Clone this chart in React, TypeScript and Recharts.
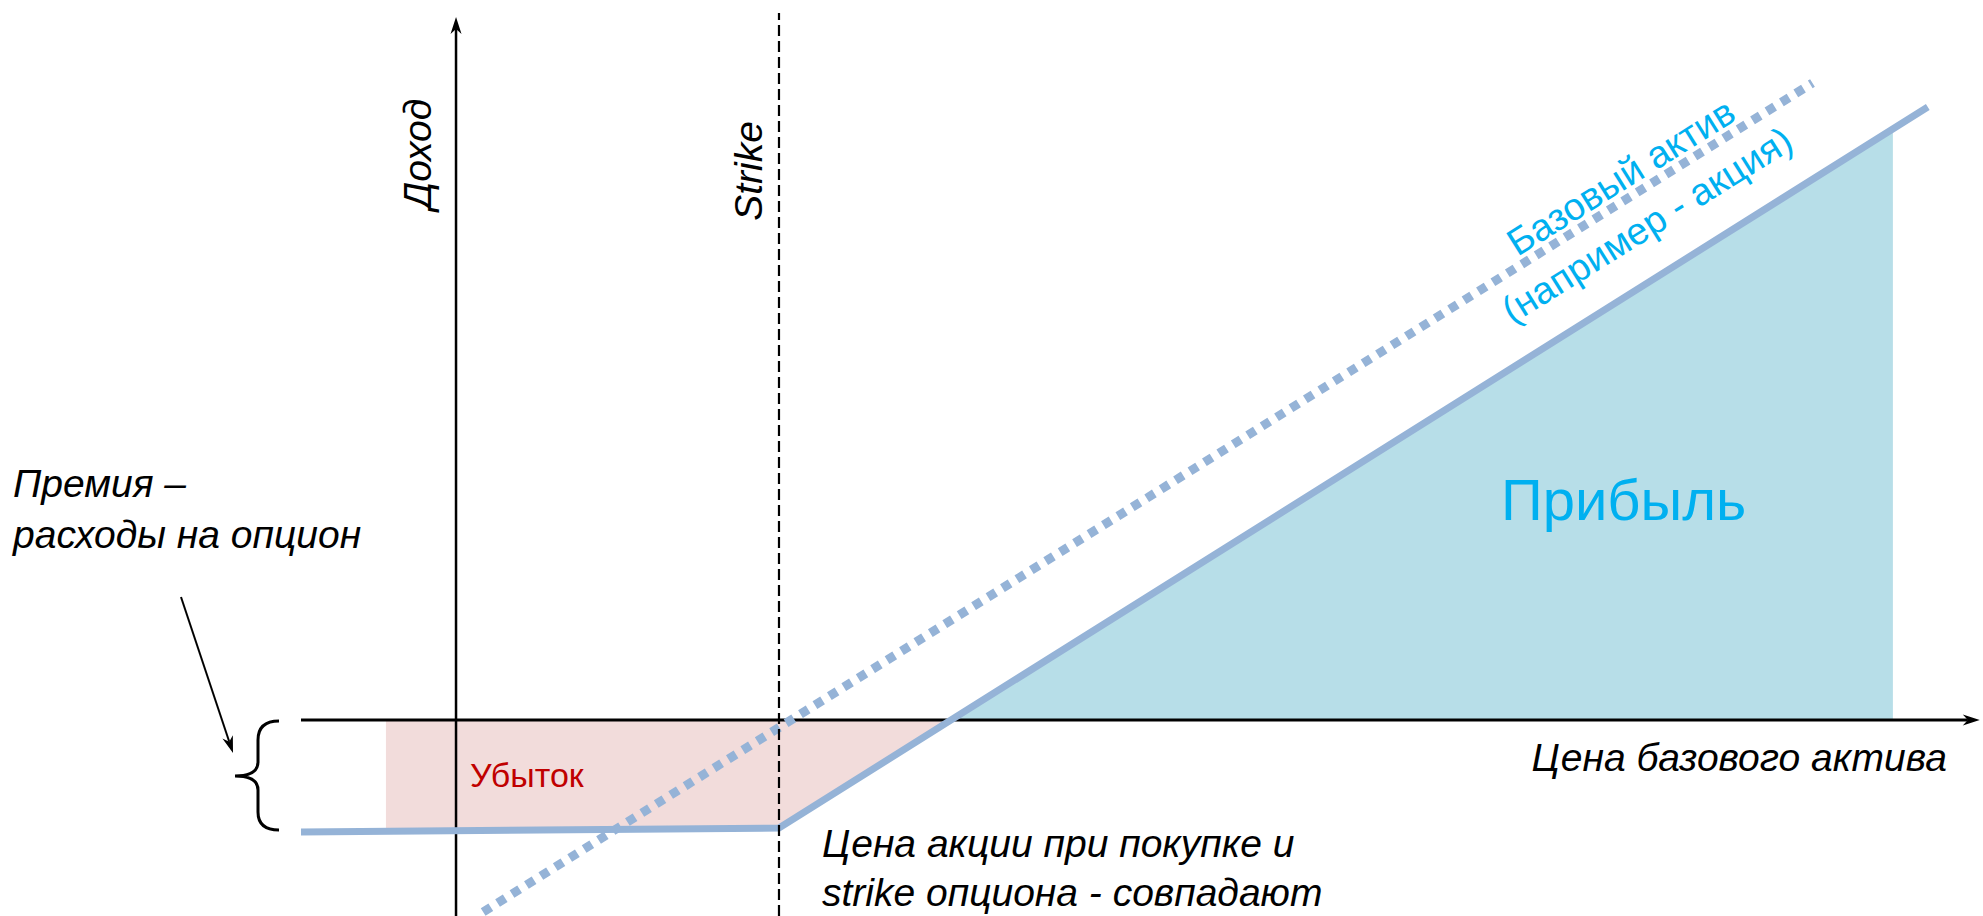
import React from 'react';
import { ComposedChart, Line, Area, XAxis, YAxis, ReferenceLine } from 'recharts';

const W = 1983;
const H = 916;

// chart units: x = price of the underlying (strike = 100), y = profit
const priceDomain = [-141.2, 472.8];
const profitDomain = [-98, 360];

const strikePrice = 100;
const strikeTop = 353.5;
const xAxisFrom = -48;
const xAxisTo = 471.8;
const yAxisFrom = -98;
const yAxisTo = 351.5;

// option payoff (solid)
const payoffPrice = [-48, 100, 455.7];
const payoffProfit = [-56, -54, 306.5];
// underlying asset (dotted)
const stockPrice = [8.4, 420];
const stockProfit = [-96, 318.5];
// loss zone
const lossPrice = [-21.7, 100, 153.3];
const lossProfit = [-55.5, -54, 0];
// profit zone
const gainPrice = [153.3, 444.9];
const gainProfit = [0, 295];

const LINE = '#95B3D7';
const FONT = "'Liberation Sans Narrow', 'Liberation Sans', sans-serif";

const zip = (xs: number[], ys: number[]) => xs.map((p, i) => ({ p, v: ys[i] }));

function ArrowLine(props: any) {
  const { x1, y1, x2, y2, stroke, strokeWidth } = props;
  const a = Math.atan2(y2 - y1, x2 - x1);
  const c = Math.cos(a);
  const s = Math.sin(a);
  const len = 17;
  const half = 5.5;
  const bx = x2 - len * c;
  const by = y2 - len * s;
  const nx = x2 - len * 0.7 * c;
  const ny = y2 - len * 0.7 * s;
  const head = `M${x2},${y2} L${bx - half * s},${by + half * c} L${nx},${ny} L${bx + half * s},${by - half * c} Z`;
  return (
    <g>
      <line x1={x1} y1={y1} x2={nx} y2={ny} stroke={stroke} strokeWidth={strokeWidth} />
      <path d={head} fill={stroke} />
    </g>
  );
}

function Overlay() {
  const italic = { fontFamily: FONT, fontStyle: 'italic', fill: '#000', fontSize: 39 } as const;
  return (
    <svg width={W} height={H} style={{ position: 'absolute', left: 0, top: 0, pointerEvents: 'none' }}>
      <text {...italic} x={417} y={154} textAnchor="middle" dominantBaseline="central" transform="rotate(-90 417 154)">
        Доход
      </text>
      <text {...italic} x={748} y={171} textAnchor="middle" dominantBaseline="central" transform="rotate(-90 748 171)">
        Strike
      </text>
      <text {...italic} x={13} y={497}>Премия –</text>
      <text {...italic} x={13} y={548}>расходы на опцион</text>
      <text {...italic} x={1947} y={771} textAnchor="end">Цена базового актива</text>
      <text {...italic} x={822} y={857}>Цена акции при покупке и</text>
      <text {...italic} x={822} y={906}>strike опциона - совпадают</text>

      <text x={470} y={787} fontFamily={FONT} fontSize={34} fill="#C00000">Убыток</text>
      <text x={1501} y={520} fontFamily={FONT} fontSize={58} fill="#00B0F0">Прибыль</text>

      <g transform="rotate(-32 1621 177)">
        <text x={1621} y={177} fontFamily={FONT} fontSize={38} fill="#00B0F0" textAnchor="middle" dominantBaseline="central">
          Базовый актив
        </text>
      </g>
      <g transform="rotate(-32 1647 225)">
        <text x={1647} y={225} fontFamily={FONT} fontSize={38} fill="#00B0F0" textAnchor="middle" dominantBaseline="central">
          (например - акция)
        </text>
      </g>

      {/* premium brace and pointer */}
      <path
        d="M279,721 Q258,721 258,740 L258,762 Q258,776 235,776 Q258,776 258,790 L258,812 Q258,830 279,830"
        fill="none"
        stroke="#000"
        strokeWidth={3}
      />
      <ArrowLine x1={181} y1={597} x2={233} y2={753} stroke="#000" strokeWidth={2} />
    </svg>
  );
}

export default function App() {
  return (
    <div style={{ position: 'absolute', left: 0, top: 0, width: W, height: H, background: '#fff' }}>
      <ComposedChart width={W} height={H} margin={{ top: 0, right: 0, bottom: 0, left: 0 }}>
        <XAxis type="number" dataKey="p" domain={priceDomain} allowDataOverflow hide />
        <YAxis type="number" dataKey="v" domain={profitDomain} allowDataOverflow hide />

        <Area
          data={zip(lossPrice, lossProfit)}
          dataKey="v"
          type="linear"
          baseValue={0}
          fill="#F2DCDB"
          fillOpacity={1}
          stroke="none"
          isAnimationActive={false}
        />
        <Area
          data={zip(gainPrice, gainProfit)}
          dataKey="v"
          type="linear"
          baseValue={0}
          fill="#B7DEE8"
          fillOpacity={1}
          stroke="none"
          isAnimationActive={false}
        />

        <ReferenceLine
          segment={[{ x: xAxisFrom, y: 0 }, { x: xAxisTo, y: 0 }]}
          stroke="#000"
          strokeWidth={3}
          shape={ArrowLine}
        />
        <ReferenceLine
          segment={[{ x: 0, y: yAxisFrom }, { x: 0, y: yAxisTo }]}
          stroke="#000"
          strokeWidth={2.5}
          shape={ArrowLine}
        />

        <Line
          data={zip(stockPrice, stockProfit)}
          dataKey="v"
          type="linear"
          stroke={LINE}
          strokeWidth={9}
          strokeDasharray="9 8"
          dot={false}
          activeDot={false}
          isAnimationActive={false}
        />
        <Line
          data={zip(payoffPrice, payoffProfit)}
          dataKey="v"
          type="linear"
          stroke={LINE}
          strokeWidth={7}
          dot={false}
          activeDot={false}
          isAnimationActive={false}
        />

        <ReferenceLine
          segment={[{ x: strikePrice, y: profitDomain[0] }, { x: strikePrice, y: strikeTop }]}
          stroke="#000"
          strokeWidth={2.2}
          strokeDasharray="11 5"
        />
      </ComposedChart>
      <Overlay />
    </div>
  );
}
